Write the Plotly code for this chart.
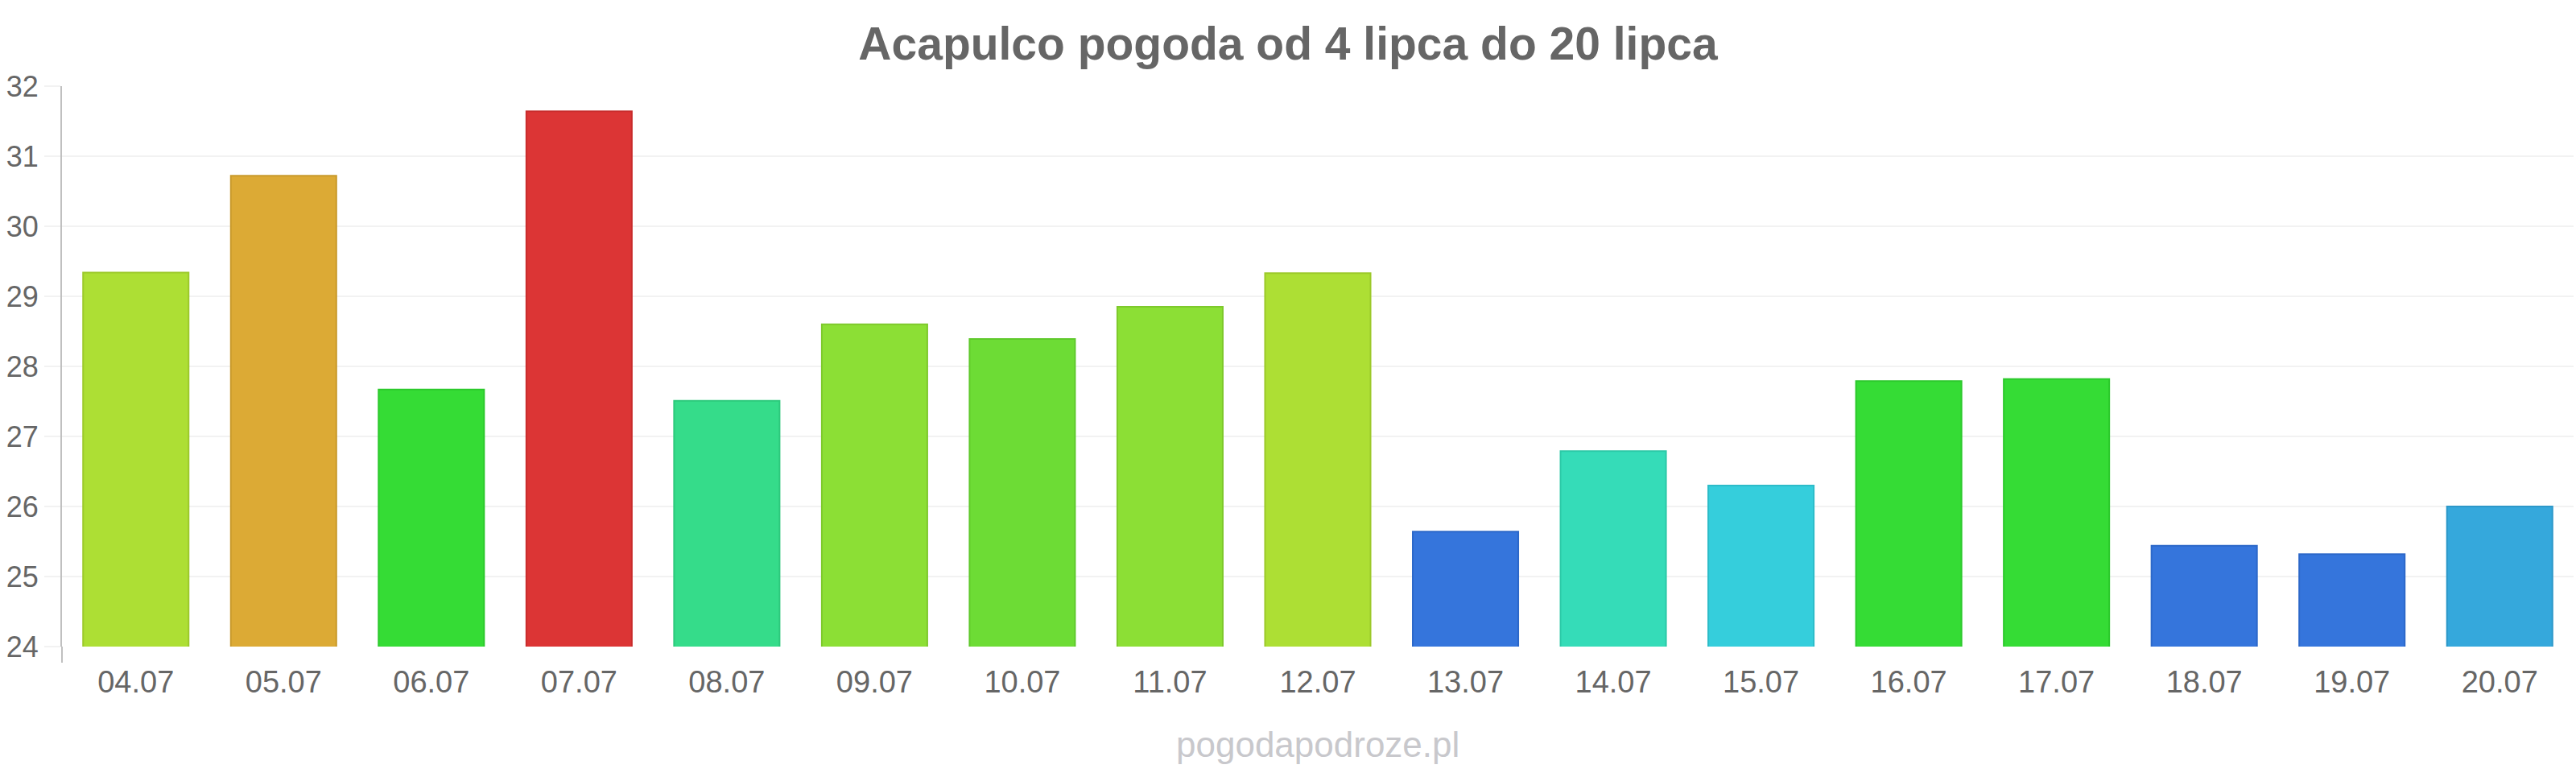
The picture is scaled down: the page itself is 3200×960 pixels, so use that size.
import plotly.graph_objects as go

categories = ["04.07", "05.07", "06.07", "07.07", "08.07", "09.07", "10.07", "11.07", "12.07",
              "13.07", "14.07", "15.07", "16.07", "17.07", "18.07", "19.07", "20.07"]
temps = [29.34, 30.72, 27.67, 31.64, 27.51, 28.60, 28.39, 28.85, 29.33,
         25.64, 26.79, 26.30, 27.79, 27.82, 25.44, 25.32, 26.00]
bar_colors = ["#addf34", "#dcaa35", "#35dc35", "#dc3535", "#35dc8a", "#8cdf35", "#6ddc35", "#8cdf35", "#addf34",
              "#3575dc", "#35dcb8", "#35cedc", "#35dc35", "#35dc35", "#3575dc", "#3575dc", "#35a8dc"]
border_colors = ["#9cc92a", "#c99a2c", "#2cc92c", "#c92c2c", "#2cc97c", "#7ec92c", "#5fc92c", "#7ec92c", "#9cc92a",
                 "#2c68c9", "#2cc9a7", "#2cbcc9", "#2cc92c", "#2cc92c", "#2c68c9", "#2c68c9", "#2c98c9"]
y_ticks = [24, 25, 26, 27, 28, 29, 30, 31, 32]

title_text = "Acapulco pogoda od 4 lipca do 20 lipca"
watermark = "pogodapodroze.pl"

W, H = 3200, 960
ml, mr, mt, mb = 77, 3, 107, 156.5

fig = go.Figure(go.Bar(
    x=categories, y=temps,
    marker=dict(color=bar_colors, line=dict(color=border_colors, width=2)),
    width=0.714,
    hoverinfo="x+y",
))

fig.update_layout(
    width=W, height=H,
    margin=dict(l=ml, r=mr, t=mt, b=mb, pad=0),
    paper_bgcolor="white", plot_bgcolor="white",
    showlegend=False,
    font=dict(family="Liberation Sans, Arial, sans-serif", color="#666666"),
    title=dict(text="<b>" + title_text + "</b>", x=0.5, xanchor="center",
               y=1 - 54 / H, yanchor="middle", yref="container",
               font=dict(size=57, color="#666666")),
    xaxis=dict(
        type="category", showgrid=False, showline=False, zeroline=False,
        ticks="outside", ticklen=10, tickcolor="rgba(0,0,0,0)",
        tickfont=dict(size=38, color="#666666"),
        range=[-0.5, len(categories) - 0.5],
    ),
    yaxis=dict(
        range=[24, 32], tickvals=y_ticks, showgrid=True, gridcolor="#f2f2f2", gridwidth=2,
        zeroline=False, showline=True, linecolor="#c0c0c0", linewidth=2,
        ticks="outside", ticklen=20, tickcolor="#f2f2f2", tickwidth=2,
        tickfont=dict(size=36, color="#666666"),
    ),
    annotations=[dict(
        text=watermark, xref="paper", yref="paper", x=0.5, y=-121.5 / (H - mt - mb),
        xanchor="center", yanchor="middle", showarrow=False,
        font=dict(size=44, color="#c8c8cc"),
    )],
    shapes=[dict(type="line", xref="paper", yref="paper", x0=0, x1=0,
                 y0=0, y1=-20 / (H - mt - mb), line=dict(color="#c0c0c0", width=2))],
)

fig.write_html("out.html")
